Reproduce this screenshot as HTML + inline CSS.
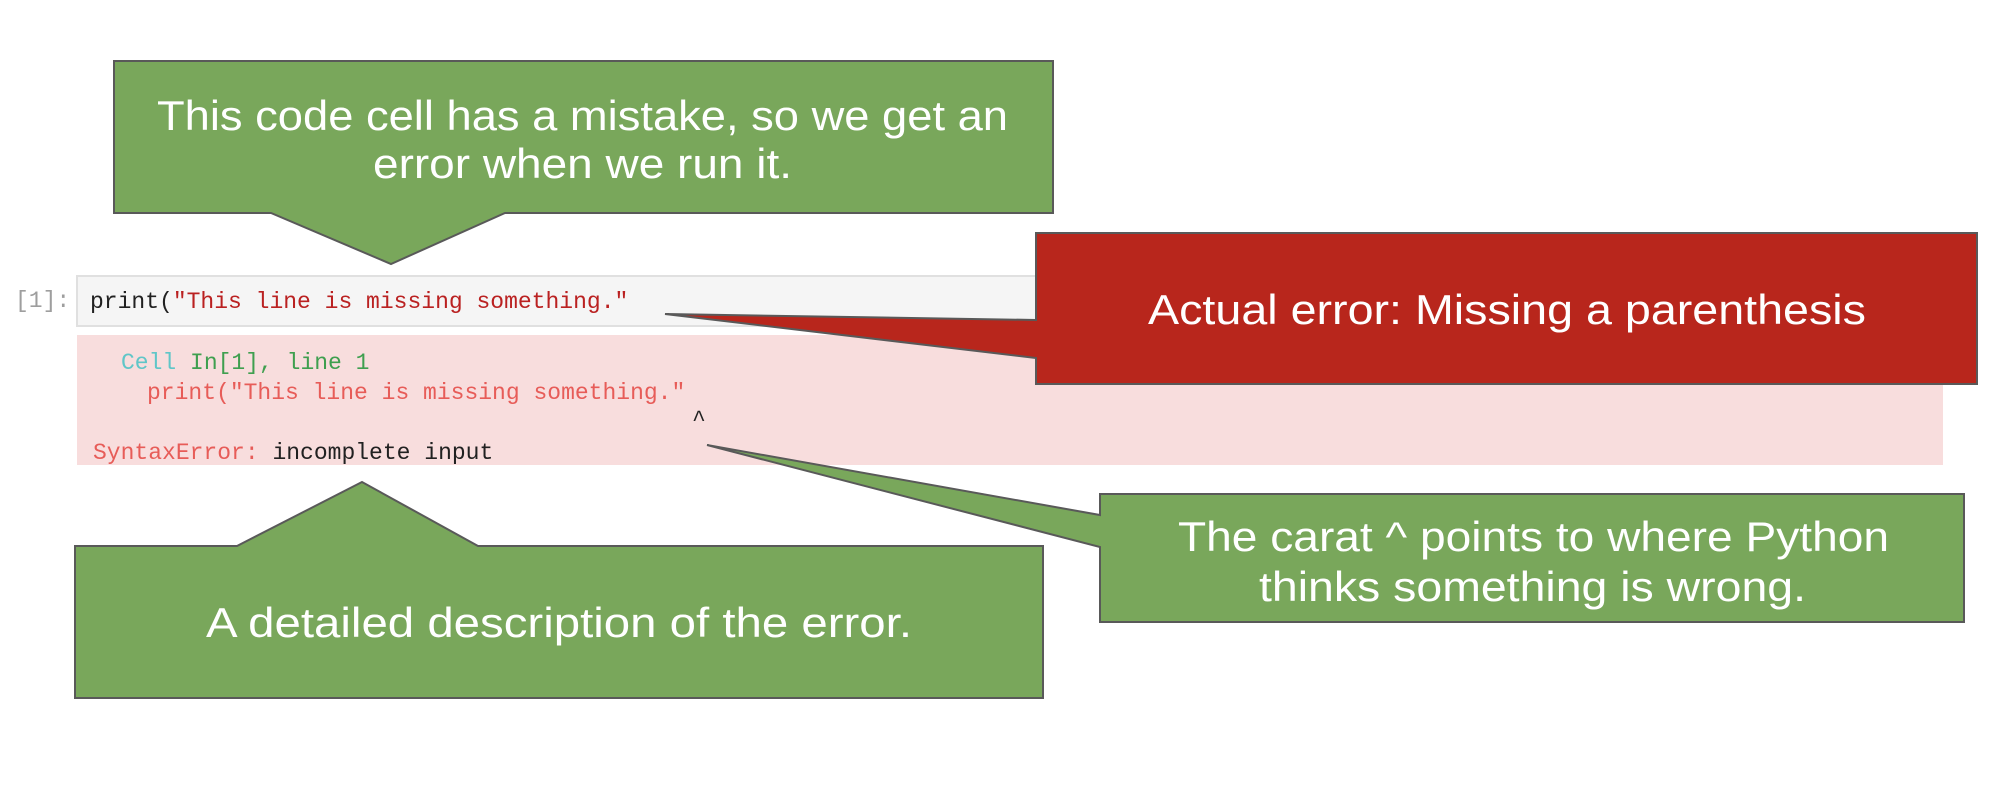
<!DOCTYPE html>
<html><head><meta charset="utf-8"><style>
html,body{margin:0;padding:0;background:#fff;}
svg{display:block;}
.t{font-family:"Liberation Sans",sans-serif;font-size:42px;fill:#fff;}
.m{font-family:"Liberation Mono","DejaVu Sans Mono",monospace;font-size:23px;}
</style></head><body>
<svg width="2004" height="812" viewBox="0 0 2004 812" xmlns="http://www.w3.org/2000/svg">
<rect width="2004" height="812" fill="#fff"/>
<!-- code cell -->
<text x="15" y="307" class="m" fill="#9e9e9e" font-size="20">[1]:</text>
<rect x="77" y="276" width="1866" height="50" fill="#f5f5f5" stroke="#e0e0e0" stroke-width="2"/>
<text x="90" y="308" class="m"><tspan fill="#212121">print(</tspan><tspan fill="#ba2121">"This line is missing something."</tspan></text>
<!-- output -->
<rect x="77" y="335" width="1866" height="130" fill="#f8dddd"/>
<text x="121" y="369" class="m"><tspan fill="#60c6c8">Cell</tspan><tspan fill="#3f9f4f"> In[1], line 1</tspan></text>
<text x="147" y="399" class="m" fill="#e75c58">print("This line is missing something."</text>
<text x="692" y="426" class="m" fill="#212121">^</text>
<text x="93" y="459" class="m"><tspan fill="#e75c58">SyntaxError:</tspan><tspan fill="#212121"> incomplete input</tspan></text>
<!-- top green callout -->
<polygon points="114,61 1053,61 1053,213 505,213 391,264 271,213 114,213" fill="#79a75b" stroke="#595959" stroke-width="2"/>
<text x="157" y="130" class="t" textLength="851" lengthAdjust="spacingAndGlyphs">This code cell has a mistake, so we get an</text>
<text x="373" y="178" class="t" textLength="419" lengthAdjust="spacingAndGlyphs">error when we run it.</text>
<!-- red callout -->
<polygon points="1036,233 1977,233 1977,384 1036,384 1036,358 665,314 1036,320" fill="#b8261c" stroke="#595959" stroke-width="2"/>
<text x="1148" y="324" class="t" textLength="718" lengthAdjust="spacingAndGlyphs">Actual error: Missing a parenthesis</text>
<!-- right green callout -->
<polygon points="1100,494 1964,494 1964,622 1100,622 1100,547 707,445 1100,515" fill="#79a75b" stroke="#595959" stroke-width="2"/>
<text x="1178" y="551" class="t" textLength="711" lengthAdjust="spacingAndGlyphs">The carat ^ points to where Python</text>
<text x="1259" y="601" class="t" textLength="547" lengthAdjust="spacingAndGlyphs">thinks something is wrong.</text>
<!-- bottom green callout -->
<polygon points="75,546 237,546 362,482 478,546 1043,546 1043,698 75,698" fill="#79a75b" stroke="#595959" stroke-width="2"/>
<text x="206" y="637" class="t" textLength="706" lengthAdjust="spacingAndGlyphs">A detailed description of the error.</text>
</svg>
</body></html>
